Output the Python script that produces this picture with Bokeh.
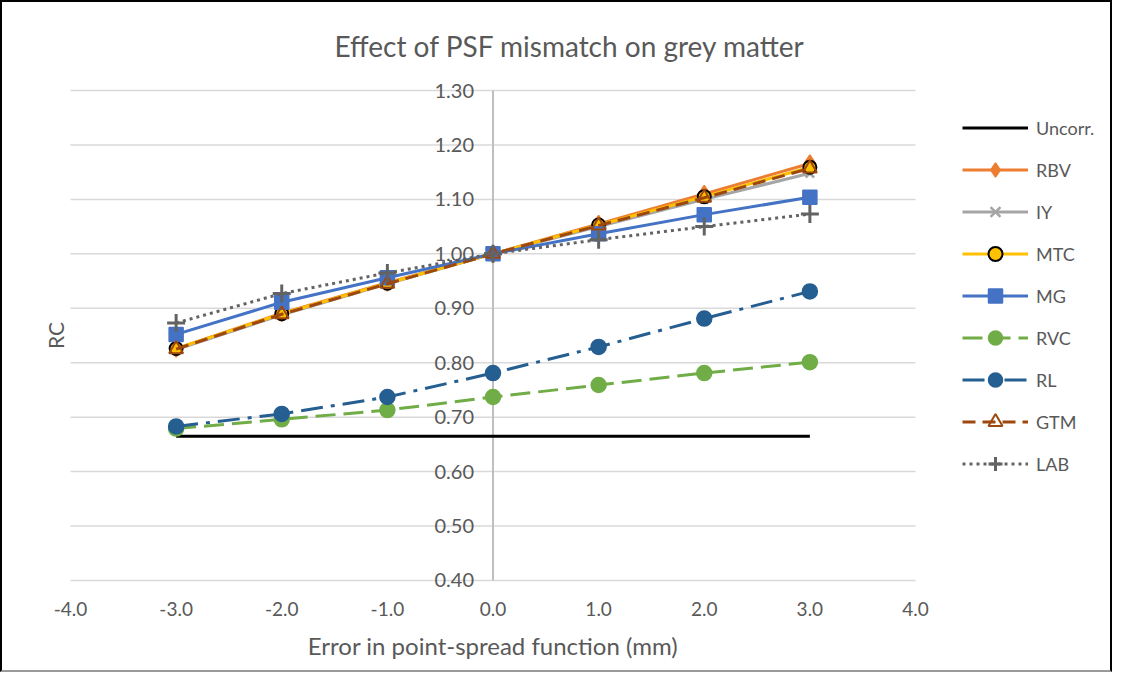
import math
from bokeh.plotting import figure
from bokeh.models import (Legend, LegendItem, LabelSet, Label, ColumnDataSource)
from bokeh.core.properties import value
from bokeh.embed import file_html
from bokeh.resources import INLINE

# ---------------- data ----------------
psf_error = [-3.0, -2.0, -1.0, 0.0, 1.0, 2.0, 3.0]
uncorr = [0.665, 0.665, 0.665, 0.665, 0.665, 0.665, 0.665]
rbv = [0.826, 0.891, 0.947, 1.000, 1.055, 1.110, 1.166]
iy = [0.824, 0.888, 0.945, 1.000, 1.050, 1.100, 1.148]
mtc = [0.826, 0.890, 0.946, 1.000, 1.053, 1.105, 1.159]
mg = [0.852, 0.911, 0.956, 1.000, 1.037, 1.072, 1.104]
rvc = [0.679, 0.696, 0.713, 0.737, 0.759, 0.781, 0.801]
rl = [0.683, 0.706, 0.737, 0.781, 0.829, 0.881, 0.931]
gtm = [0.825, 0.889, 0.945, 1.000, 1.052, 1.103, 1.157]
lab = [0.873, 0.927, 0.965, 1.000, 1.026, 1.050, 1.073]

x_ticks = [-4.0, -3.0, -2.0, -1.0, 0.0, 1.0, 2.0, 3.0, 4.0]
x_tick_labels = ["-4.0", "-3.0", "-2.0", "-1.0", "0.0", "1.0", "2.0", "3.0", "4.0"]
y_ticks = [0.40, 0.50, 0.60, 0.70, 0.80, 0.90, 1.00, 1.10, 1.20, 1.30]
y_tick_labels = ["0.40", "0.50", "0.60", "0.70", "0.80", "0.90", "1.00", "1.10", "1.20", "1.30"]
y_axis_cross = 0.0
x_title = "Error in point-spread function (mm)"
y_title = "RC"

TXT = "#595959"
FONT = "Lato"
GRID = "#D9D9D9"

# the frame covers the whole chart area below the title; the plot area
# (x -4..4, y 0.40..1.30) sits inside it, with room for labels and legend
p = figure(width=1112, height=672, x_range=(-4.6438, 5.884), y_range=(0.2273, 1.3147),
           output_backend="svg", toolbar_location=None,
           x_axis_location=None, y_axis_location=None,
           min_border_left=0, min_border_right=0, min_border_top=80,
           min_border_bottom=0, background_fill_color="white",
           border_fill_color="white",
           styles={"border": "2px solid #000000", "border-bottom-color": "#9A9A9A"})
p.outline_line_color = None
p.grid.visible = False
p.xgrid.grid_line_color = None
p.ygrid.grid_line_color = None

# title
p.title.text = "Effect of PSF mismatch on grey matter"
p.title.align = "left"
p.title.offset = 332
p.title.standoff = 40
p.title.text_font = FONT
p.title.text_font_size = "28px"
p.title.text_font_style = "normal"
p.title.text_color = TXT

# horizontal gridlines across the plot area
n = len(y_ticks)
p.segment(x0=[x_ticks[0]] * n, y0=y_ticks, x1=[x_ticks[-1]] * n, y1=y_ticks,
          line_color=GRID, line_width=1.5)
# vertical axis line at x = 0
p.segment(x0=[y_axis_cross], y0=[y_ticks[0]], x1=[y_axis_cross], y1=[y_ticks[-1]],
          line_color="#BFBFBF", line_width=2)

# y tick labels at the crossing point
ylab_src = ColumnDataSource(dict(x=[y_axis_cross] * n, y=y_ticks, text=y_tick_labels))
p.add_layout(LabelSet(x="x", y="y", text="text", source=ylab_src,
                      x_offset=-19, text_align="right", text_baseline="middle",
                      text_font=value(FONT), text_font_size=value("20px"),
                      text_color=TXT))

# x tick labels under the plot area
xlab_src = ColumnDataSource(dict(x=x_ticks, y=[y_ticks[0]] * len(x_ticks),
                                 text=x_tick_labels))
p.add_layout(LabelSet(x="x", y="y", text="text", source=xlab_src,
                      y_offset=-29, text_align="center", text_baseline="middle",
                      text_font=value(FONT), text_font_size=value("19px"),
                      text_color=TXT))

# axis titles
p.add_layout(Label(x=(x_ticks[0] + x_ticks[-1]) / 2, y=y_ticks[0], y_offset=-65,
                   text=x_title, text_align="center", text_baseline="middle",
                   text_font=FONT, text_font_size="24px", text_color=TXT))
p.add_layout(Label(x=x_ticks[0], y=(y_ticks[0] + y_ticks[-1]) / 2, x_offset=-15,
                   angle=math.pi / 2, text=y_title, text_align="center",
                   text_baseline="middle", text_font=FONT, text_font_size="21px",
                   text_color=TXT))

items = []

def series(label, ys, color, dash, marker, size, fill, line_c=None, mlw=1.5, lw=3):
    rs = []
    r = p.line(psf_error, ys, line_color=color, line_width=lw, line_dash=dash)
    rs.append(r)
    if marker is not None:
        s = p.scatter(psf_error, ys, marker=marker, size=size,
                      fill_color=fill if fill else "white",
                      fill_alpha=1.0 if fill else 0.0,
                      line_color=line_c or color, line_width=mlw)
        rs.append(s)
    items.append(LegendItem(label=label, renderers=rs))

series("Uncorr.", uncorr, "#000000", "solid", None, 0, None)
series("RBV", rbv, "#ED7D31", "solid", "diamond", 17, "#ED7D31")
series("IY", iy, "#A5A5A5", "solid", "x", 12, None, mlw=2.5)
series("MTC", mtc, "#FFC000", "solid", "circle", 13, "#FFC000", line_c="#000000", mlw=2)
series("MG", mg, "#4472C4", "solid", "square", 14, "#4472C4")
series("RVC", rvc, "#70AD47", "20 8", "circle", 15, "#70AD47")
series("RL", rl, "#255E91", "22 8 4 8", "circle", 15, "#255E91")
series("GTM", gtm, "#9E480E", "13 7", "triangle", 14, None, mlw=2)
series("LAB", lab, "#636363", "3 4", "cross", 18, None, mlw=3)

legend = Legend(items=items, location=(960, 193), orientation="vertical",
                glyph_width=66, glyph_height=35, label_height=35, spacing=7,
                label_standoff=8, padding=0, margin=0,
                border_line_alpha=0, background_fill_alpha=0,
                label_text_font=FONT, label_text_font_size="18px",
                label_text_color=TXT)
p.add_layout(legend, "center")

open("out.html", "w").write(file_html(p, INLINE))
